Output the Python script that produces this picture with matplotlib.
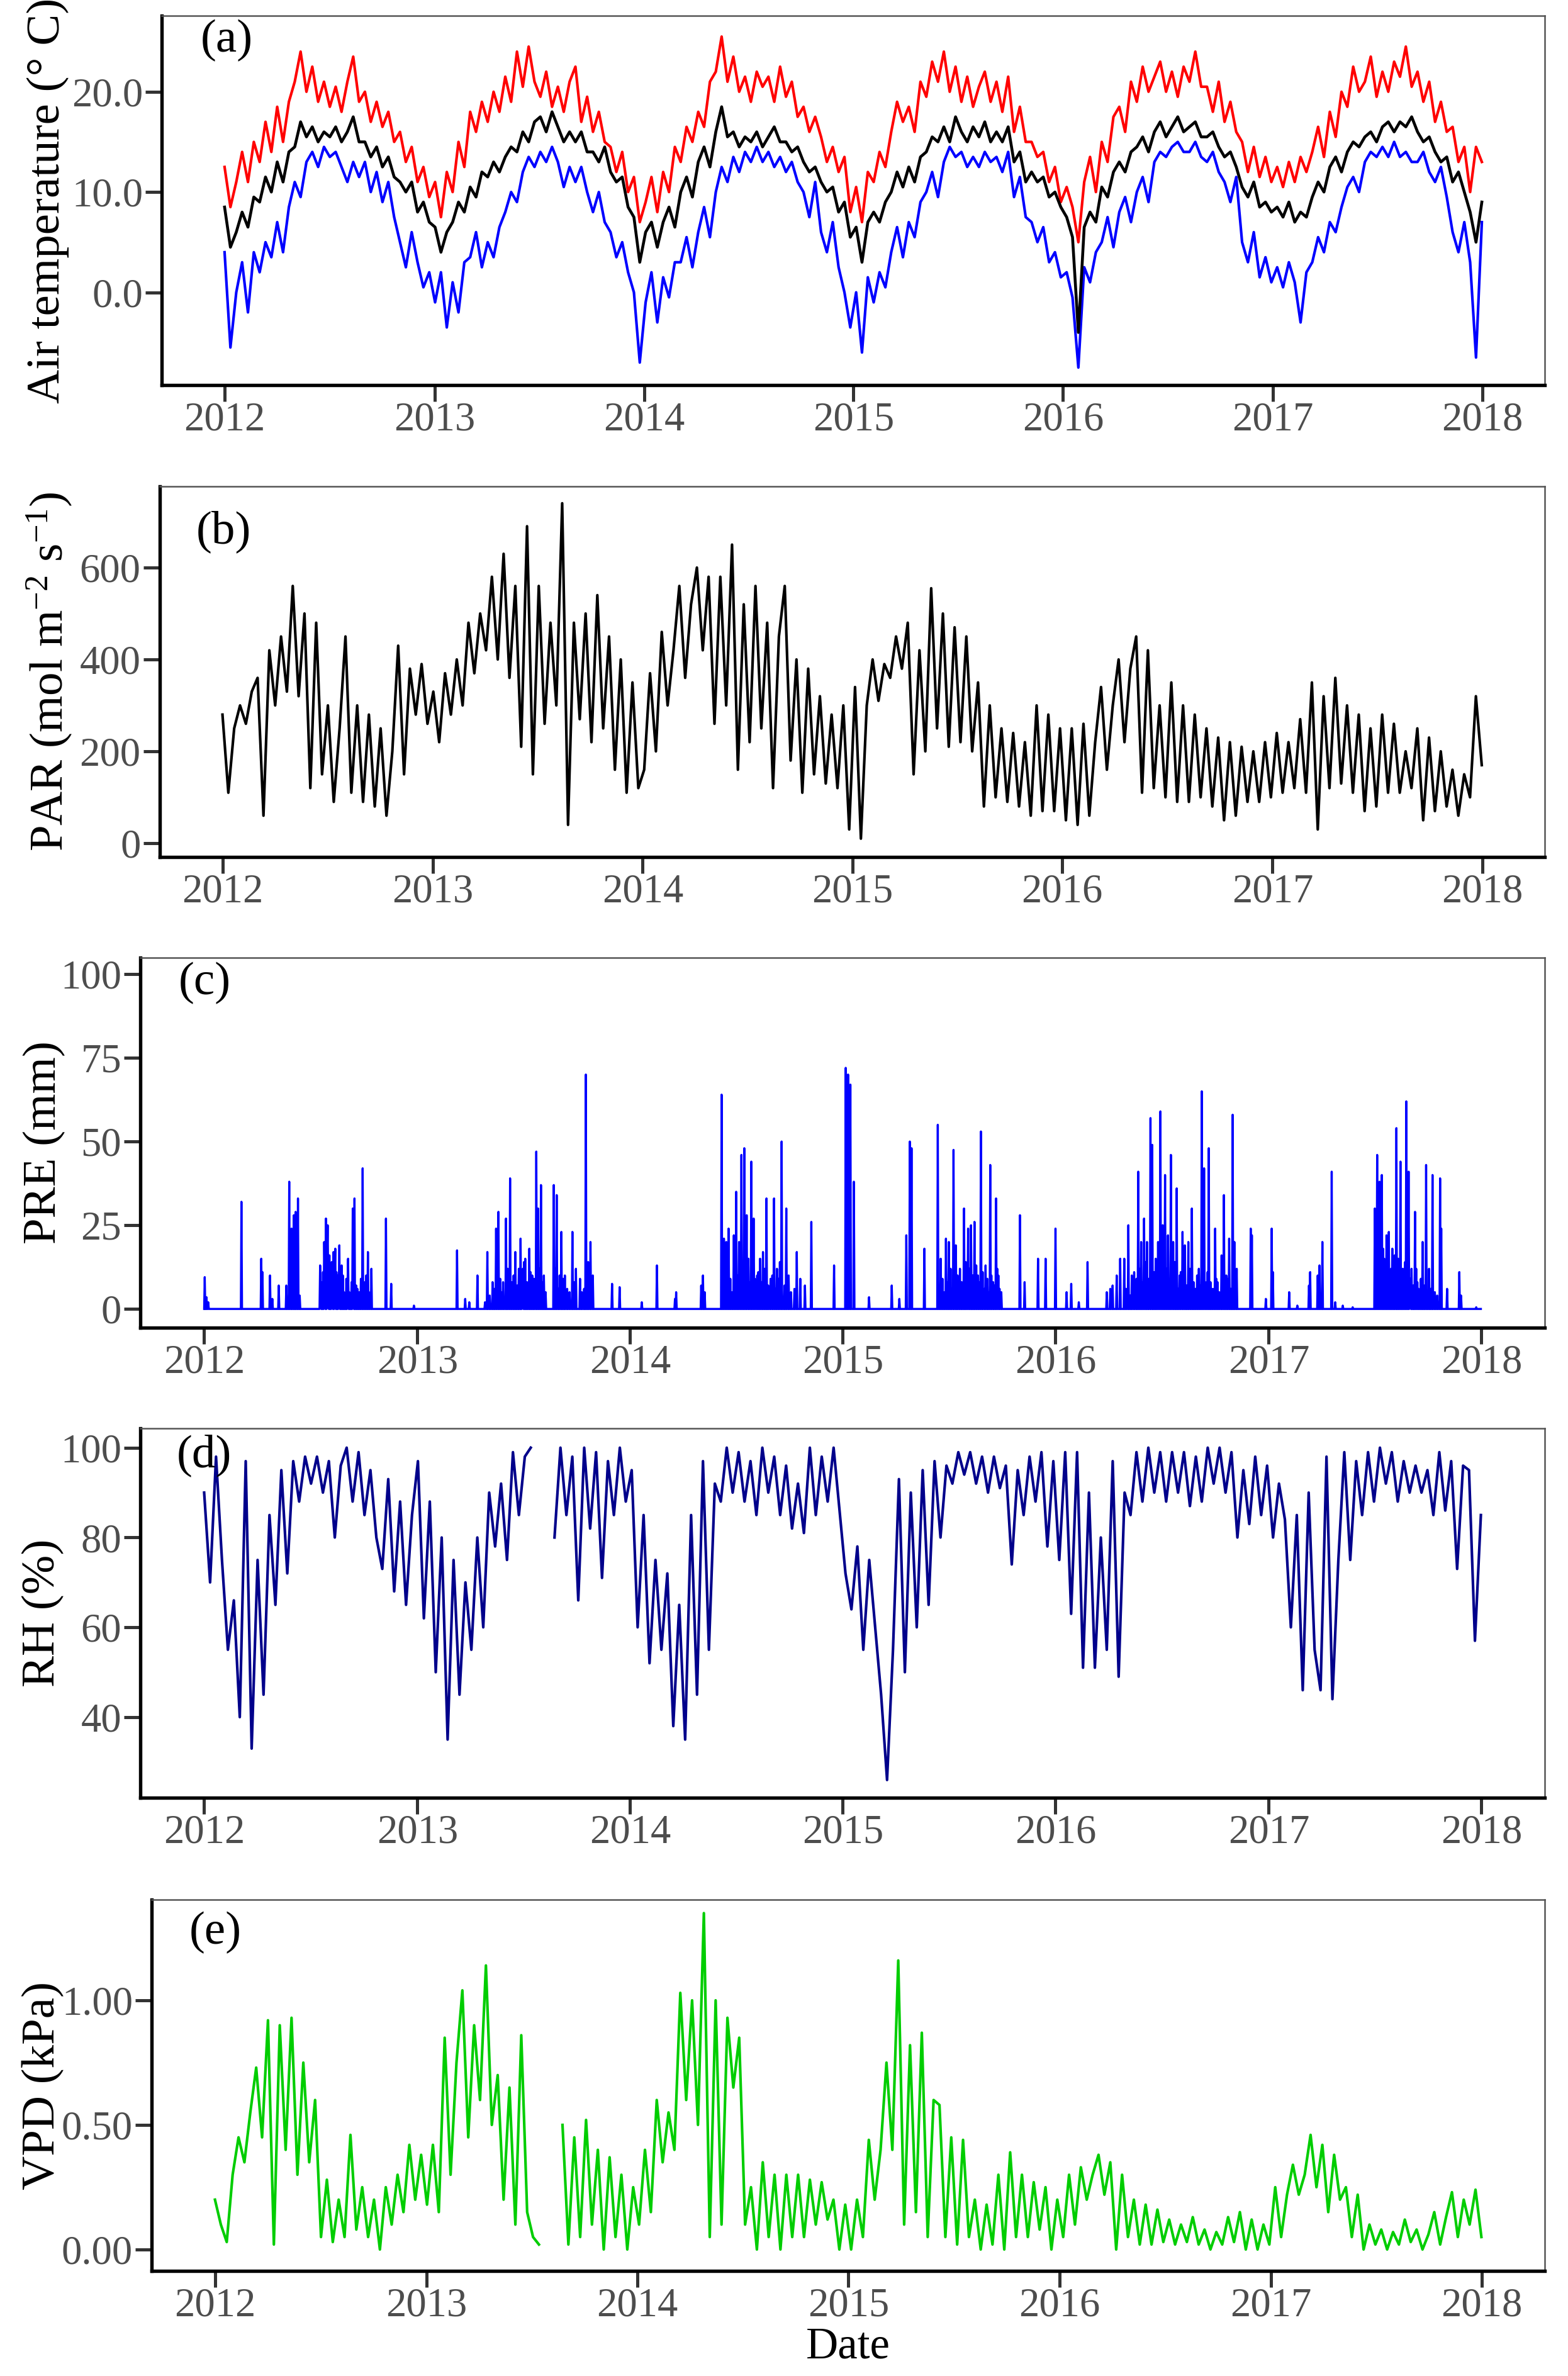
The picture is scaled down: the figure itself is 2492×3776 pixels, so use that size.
import numpy as np
import pandas as pd
import matplotlib
matplotlib.use('Agg')
import matplotlib.pyplot as plt
import matplotlib.dates as mdates

plt.rcParams.update({
    'font.family': ['Liberation Serif', 'DejaVu Serif'],
    'mathtext.fontset': 'custom',
    'mathtext.rm': 'Liberation Serif',
    'mathtext.it': 'Liberation Serif:italic',
    'mathtext.default': 'regular',
})

# ---- data: ten-day values, one row per year (Jan..Dec, three per month) ----
tmax = [
    12.5, 8.5, 11, 14, 11, 15, 13, 17, 14, 18.5, 15, 19, 21, 24, 20, 22.5, 19, 21,
    18.5, 20.5, 18, 21, 23.5, 19, 20, 17, 19, 16.5, 18, 15, 16, 13, 14.5, 11, 12.5, 9.5,
    11, 7.5, 12, 10, 15, 12.5, 18, 16, 19, 17, 20, 18, 21.5, 19, 24, 20.5, 24.5, 21,
    19.5, 22, 18.5, 20.5, 18, 21, 22.5, 17, 19.5, 16, 18, 15, 14.5, 12, 14, 10, 11.5, 7,
    9, 11.5, 8, 12, 10, 14.5, 13, 16.5, 15, 18, 16.5, 21, 22, 25.5, 21, 23.5, 20, 21.5,
    19, 22, 20.5, 21.5, 19, 22.5, 19.5, 21, 17.5, 18.5, 16, 17.5, 15.5, 13, 14.5, 12, 13.5, 8,
    10.5, 7, 12, 11, 14, 12.5, 16, 19, 17, 18.5, 16, 21, 19.5, 23, 21, 24, 20, 22.5,
    19, 21.5, 18.5, 20.5, 22, 19, 21, 18, 21.5, 16, 18.5, 15, 15, 13.5, 14, 11, 12.5, 9,
    10.5, 8.5, 5, 11, 13.5, 10, 15, 13, 17.5, 18.5, 16, 21, 19, 22.5, 20, 21.5, 23, 20,
    22, 19.5, 22.5, 21, 24, 20.5, 20.5, 18, 21, 17, 19, 16, 15, 12, 14.5, 11.5, 13.5, 11,
    12.5, 10.5, 13, 11, 13.5, 12, 14, 16.5, 13.5, 18, 15.5, 20, 18.5, 22.5, 20, 21, 23.5, 19.5,
    22, 20, 23, 21.5, 24.5, 20.5, 22, 19, 21, 17, 19, 16, 16.5, 13, 14.5, 10, 14.5, 13,
]
tmean = [
    8.5, 4.5, 6, 8, 6.5, 9.5, 9, 11.5, 10, 13, 11, 14, 14.5, 17, 15.5, 16.5, 15, 16,
    15.5, 16.5, 15, 16, 17.5, 15, 15, 13.5, 14.5, 12.5, 13.5, 11.5, 11, 10, 11, 8, 9, 7,
    6.5, 4, 6, 7, 9, 8, 10.5, 9.5, 12, 11.5, 13, 12, 13.5, 14.5, 14, 16, 15, 17,
    17.5, 16, 18, 16.5, 15, 16, 15, 16, 14, 14, 13, 14.5, 12, 11, 11.5, 8.5, 7.5, 3,
    6, 7, 4.5, 7, 8.5, 6.5, 10, 11.5, 9.5, 13, 14.5, 12.5, 16, 18.5, 15.5, 16, 14.5, 15.5,
    15, 16, 14.5, 15.5, 16.5, 15, 15, 14, 14.5, 13, 12, 12.5, 11, 10, 10.5, 8, 9, 5.5,
    6.5, 3, 7, 8, 7, 9, 10, 12, 10.5, 12.5, 11, 13.5, 14, 15.5, 15, 16.5, 15, 17.5,
    16, 15, 16.5, 15.5, 17, 15, 16, 15, 16.5, 13, 14, 11, 12, 11, 11.5, 9.5, 10, 8.5,
    7.5, 5.5, -4, 6.5, 8, 7, 10.5, 9.5, 12, 13, 12, 14, 14.5, 15.5, 14, 16, 17, 15.5,
    16.5, 17.5, 16, 16.5, 17, 15.5, 15.5, 16, 14.5, 13.5, 14, 12.5, 10.5, 9.5, 11, 8.5, 9, 8,
    8.5, 7.5, 9, 7, 8, 7.5, 9.5, 11, 10, 12.5, 13.5, 12, 14, 15, 14.5, 15.5, 16, 15,
    16.5, 17, 16, 17, 16.5, 17.5, 16, 15, 15.5, 14, 13, 13.5, 11, 12, 10, 8, 5, 9,
]
tmin = [
    4, -5.5, 0, 3, -2, 4, 2, 5, 3.5, 7, 4, 8.5, 11, 9.5, 13, 14, 12.5, 14.5,
    13.5, 14, 12.5, 11, 13, 11.5, 13, 10, 12, 9, 11, 7.5, 5, 2.5, 6, 3, 0.5, 2,
    -1, 2, -3.5, 1, -2, 3, 3.5, 6, 2.5, 5, 3.5, 6.5, 8, 10, 9, 12, 13.5, 12.5,
    14, 13, 14.5, 13, 10.5, 12.5, 11, 12.5, 10, 8, 10, 7, 6, 3.5, 5, 2, 0, -7,
    -1, 2, -3, 1.5, -0.5, 3, 3, 5.5, 2.5, 6, 8.5, 5.5, 10, 12.5, 11, 13.5, 12, 14,
    13, 14.5, 13, 14, 12.5, 13.5, 12, 13, 11, 10, 7.5, 11, 6, 4, 7, 2.5, 0, -3.5,
    0, -6, 1.5, -1, 2, 0.5, 4, 6.5, 3.5, 7, 5.5, 9, 10, 12, 9.5, 13, 14.5, 13.5,
    14, 12.5, 13.5, 12.5, 14, 13, 13.5, 12, 14, 9.5, 11.5, 7.5, 7, 5, 6.5, 3, 4, 1.5,
    2, -0.5, -7.5, 2.5, 1, 4, 5, 7.5, 4.5, 8, 9.5, 7, 10, 11.5, 9, 13, 14, 13.5,
    14.5, 15, 14, 14, 15, 13.5, 13, 14, 12, 11, 9, 11.5, 5, 3, 6, 1.5, 3.5, 1,
    2.5, 0.5, 3, 1, -3, 2, 3, 5.5, 4, 7, 6, 8.5, 10.5, 11.5, 10, 13, 14, 13.5,
    14.5, 13.5, 15, 13.5, 14, 13, 13, 14, 12, 11, 12.5, 9.5, 6, 4, 7, 3, -6.5, 7,
]
par = [
    280, 110, 250, 300, 260, 330, 360, 60, 420, 300, 450, 330, 560, 320, 500, 120, 480, 150,
    300, 90, 250, 450, 110, 300, 90, 280, 80, 250, 60, 200, 430, 150, 380, 280, 390, 260,
    330, 220, 370, 280, 400, 300, 480, 370, 500, 420, 580, 400, 630, 360, 560, 210, 690, 150,
    560, 260, 480, 300, 740, 40, 480, 270, 500, 220, 540, 250, 450, 160, 400, 110, 350, 120,
    160, 370, 200, 460, 300, 420, 560, 360, 520, 600, 420, 580, 260, 580, 300, 650, 160, 520,
    220, 560, 250, 480, 120, 450, 560, 180, 400, 110, 380, 150, 320, 130, 280, 120, 300, 30,
    340, 10, 300, 400, 310, 390, 360, 450, 380, 480, 150, 420, 200, 555, 250, 500, 210, 470,
    220, 450, 200, 350, 80, 300, 100, 250, 90, 240, 80, 220, 60, 300, 70, 280, 70, 250,
    50, 250, 40, 260, 60, 220, 340, 160, 300, 400, 220, 380, 450, 110, 420, 120, 300, 100,
    350, 90, 300, 90, 280, 100, 250, 80, 230, 50, 220, 60, 210, 90, 200, 90, 220, 100,
    240, 110, 220, 120, 270, 110, 350, 30, 320, 120, 360, 130, 300, 110, 280, 70, 250, 80,
    280, 110, 260, 110, 200, 120, 250, 50, 230, 70, 200, 80, 160, 60, 150, 100, 320, 170,
]
nan = np.nan
rh = [
    90, 70, 98, 75, 55, 66, 40, 97, 33, 75, 45, 85, 65, 95, 72, 97, 88, 98,
    92, 98, 90, 97, 80, 96, 100, 88, 99, 85, 95, 80, 73, 93, 68, 88, 65, 85,
    97, 62, 88, 50, 80, 35, 75, 45, 70, 55, 80, 60, 90, 78, 92, 75, 99, 85,
    98, 100, nan, nan, nan, 80, 100, 85, 98, 66, 100, 82, 99, 71, 97, 85, 100, 88,
    95, 60, 85, 52, 75, 55, 72, 38, 65, 35, 85, 45, 97, 55, 92, 88, 100, 90,
    99, 88, 97, 85, 100, 90, 98, 85, 96, 82, 92, 81, 100, 85, 98, 88, 100, 86,
    72, 64, 78, 55, 75, 60, 45, 26, 55, 93, 50, 90, 60, 95, 65, 97, 80, 96,
    92, 99, 94, 99, 92, 98, 90, 98, 91, 96, 74, 95, 85, 98, 88, 99, 78, 97,
    75, 99, 63, 99, 51, 90, 51, 80, 55, 97, 49, 90, 85, 99, 88, 100, 90, 99,
    88, 99, 90, 99, 87, 98, 88, 100, 92, 100, 90, 99, 80, 95, 83, 98, 85, 96,
    80, 92, 84, 60, 85, 46, 90, 55, 46, 98, 44, 75, 99, 75, 97, 85, 99, 88,
    100, 92, 99, 88, 97, 90, 96, 90, 95, 85, 99, 86, 97, 73, 96, 95, 57, 85,
]
vpd = [
    0.20, 0.10, 0.03, 0.30, 0.45, 0.35, 0.55, 0.73, 0.45, 0.92, 0.02, 0.90, 0.40, 0.93, 0.30, 0.75, 0.35, 0.60,
    0.05, 0.28, 0.03, 0.20, 0.05, 0.46, 0.08, 0.25, 0.05, 0.20, 0.00, 0.25, 0.10, 0.30, 0.15, 0.42, 0.20, 0.38,
    0.18, 0.42, 0.15, 0.85, 0.30, 0.75, 1.04, 0.45, 0.90, 0.60, 1.14, 0.50, 0.70, 0.20, 0.65, 0.10, 0.86, 0.15,
    0.05, 0.02, nan, nan, nan, 0.50, 0.02, 0.45, 0.05, 0.52, 0.10, 0.40, 0.00, 0.37, 0.05, 0.30, 0.00, 0.25,
    0.10, 0.40, 0.15, 0.60, 0.35, 0.55, 0.40, 1.03, 0.60, 1.00, 0.50, 1.35, 0.05, 1.00, 0.10, 0.93, 0.65, 0.85,
    0.10, 0.25, 0.00, 0.35, 0.05, 0.30, 0.00, 0.30, 0.05, 0.30, 0.05, 0.28, 0.10, 0.27, 0.12, 0.20, 0.00, 0.18,
    0.00, 0.20, 0.05, 0.44, 0.20, 0.40, 0.75, 0.40, 1.16, 0.10, 0.82, 0.15, 0.87, 0.05, 0.60, 0.58, 0.05, 0.45,
    0.02, 0.44, 0.05, 0.20, 0.00, 0.18, 0.02, 0.30, 0.00, 0.39, 0.05, 0.30, 0.05, 0.27, 0.08, 0.25, 0.00, 0.20,
    0.05, 0.30, 0.10, 0.33, 0.20, 0.30, 0.38, 0.22, 0.35, 0.00, 0.30, 0.05, 0.20, 0.02, 0.18, 0.02, 0.16, 0.03,
    0.12, 0.02, 0.10, 0.03, 0.13, 0.02, 0.08, 0.00, 0.07, 0.02, 0.13, 0.03, 0.15, 0.00, 0.12, 0.00, 0.10, 0.02,
    0.25, 0.05, 0.22, 0.34, 0.22, 0.30, 0.46, 0.25, 0.42, 0.15, 0.38, 0.20, 0.25, 0.05, 0.22, 0.00, 0.10, 0.02,
    0.08, 0.00, 0.07, 0.02, 0.12, 0.03, 0.08, 0.00, 0.06, 0.15, 0.02, 0.13, 0.23, 0.05, 0.20, 0.10, 0.24, 0.05,
]

# daily precipitation: rain days (all other days 0 mm)
pre_dates = [
    '2012-01-02', '2012-01-05', '2012-01-08', '2012-03-05', '2012-04-08', '2012-04-10', '2012-04-23',
    '2012-04-27', '2012-05-08', '2012-05-21', '2012-05-26', '2012-05-30', '2012-06-03', '2012-06-06',
    '2012-06-10', '2012-06-13', '2012-07-18', '2012-07-21', '2012-07-25', '2012-07-28', '2012-07-31',
    '2012-08-03', '2012-08-07', '2012-08-10', '2012-08-13', '2012-08-17', '2012-08-20', '2012-08-24',
    '2012-08-28', '2012-09-01', '2012-09-04', '2012-09-08', '2012-09-12', '2012-09-15', '2012-09-20',
    '2012-09-29', '2012-10-03', '2012-10-08', '2012-10-14', '2012-11-08', '2012-11-17', '2012-12-26',
    '2013-03-10', '2013-03-24', '2013-03-31', '2013-04-14', '2013-04-27', '2013-05-01', '2013-05-10',
    '2013-05-16', '2013-05-20', '2013-05-28', '2013-06-02', '2013-06-09', '2013-06-18', '2013-06-27',
    '2013-07-01', '2013-07-05', '2013-07-12', '2013-07-17', '2013-07-24', '2013-07-27', '2013-08-01',
    '2013-08-06', '2013-08-23', '2013-08-28', '2013-09-02', '2013-09-05', '2013-09-11', '2013-09-24',
    '2013-09-30', '2013-10-07', '2013-10-17', '2013-10-21', '2013-10-25', '2013-10-29', '2013-12-01',
    '2013-12-14',
    '2014-01-21', '2014-02-16', '2014-03-19', '2014-03-21', '2014-05-03', '2014-05-06', '2014-05-09',
    '2014-06-07', '2014-06-11', '2014-06-15', '2014-06-19', '2014-06-25', '2014-06-28', '2014-07-02',
    '2014-07-07', '2014-07-11', '2014-07-16', '2014-07-20', '2014-07-28', '2014-08-01', '2014-08-07',
    '2014-08-12', '2014-08-17', '2014-08-23', '2014-08-30', '2014-09-05', '2014-09-10', '2014-09-18',
    '2014-09-26', '2014-09-30', '2014-10-14', '2014-10-20', '2014-10-28', '2014-11-08', '2014-12-17',
    '2015-01-06', '2015-01-10', '2015-01-14', '2015-01-20', '2015-02-15', '2015-03-26', '2015-04-08',
    '2015-04-20', '2015-04-26', '2015-04-29', '2015-05-21', '2015-06-13', '2015-06-18', '2015-06-27',
    '2015-07-02', '2015-07-10', '2015-07-14', '2015-07-21', '2015-07-28', '2015-08-04', '2015-08-09',
    '2015-08-15', '2015-08-21', '2015-08-26', '2015-09-03', '2015-09-11', '2015-09-16', '2015-09-21',
    '2015-09-25', '2015-09-30', '2015-11-01', '2015-11-09', '2015-12-02', '2015-12-15', '2016-01-01',
    '2016-01-20', '2016-01-28', '2016-02-10', '2016-02-25', '2016-03-29', '2016-04-04', '2016-04-08',
    '2016-04-15', '2016-04-21', '2016-04-28', '2016-05-05', '2016-05-11', '2016-05-15', '2016-05-22',
    '2016-05-27', '2016-06-01', '2016-06-06', '2016-06-12', '2016-06-15', '2016-06-21', '2016-06-25',
    '2016-06-29', '2016-07-03', '2016-07-07', '2016-07-12', '2016-07-17', '2016-07-21', '2016-07-27',
    '2016-08-01', '2016-08-06', '2016-08-10', '2016-08-16', '2016-08-22', '2016-08-28', '2016-09-03',
    '2016-09-08', '2016-09-12', '2016-09-16', '2016-09-20', '2016-09-26', '2016-10-01', '2016-10-05',
    '2016-10-12', '2016-10-16', '2016-10-20', '2016-10-25', '2016-10-31', '2016-11-03', '2016-11-07',
    '2016-12-01', '2016-12-03', '2016-12-27',
    '2017-01-06', '2017-01-08', '2017-02-05', '2017-02-19', '2017-03-11', '2017-03-13', '2017-03-26',
    '2017-03-29', '2017-04-03', '2017-04-19', '2017-04-25', '2017-05-08', '2017-05-25', '2017-07-02',
    '2017-07-06', '2017-07-10', '2017-07-14', '2017-07-18', '2017-07-22', '2017-07-26', '2017-08-01',
    '2017-08-08', '2017-08-11', '2017-08-15', '2017-08-19', '2017-08-25', '2017-08-29', '2017-09-03',
    '2017-09-09', '2017-09-13', '2017-09-17', '2017-09-22', '2017-09-28', '2017-10-03', '2017-10-09',
    '2017-10-13', '2017-10-22', '2017-10-24', '2017-11-03', '2017-11-24', '2017-11-27', '2017-12-23',
]
pre_mm = [
    9.5, 3.5, 2, 32, 15, 11, 10, 3, 7, 7, 38, 24, 28, 29,
    33, 4, 13, 8, 20, 27, 25, 16, 14, 17, 18, 10, 19, 13,
    5, 9, 15, 4, 30, 33, 6, 42, 8, 17, 12, 27, 7.5, 1,
    17.5, 3, 2, 10, 2, 17, 8, 24, 29, 8, 27, 39, 17, 21,
    12, 15, 18, 10, 47, 30, 37, 10, 37, 34, 10, 23, 10, 23,
    12, 9, 70, 14, 20, 10, 7.5, 6.5,
    2, 13, 3, 5, 7, 10, 5, 64, 21, 20, 24, 5, 22, 35,
    20, 46, 48, 28, 44, 27, 10, 15, 17, 33, 9, 33, 12, 50,
    30, 10, 17, 9, 7, 26, 13,
    72, 70, 67, 38, 3.5, 7, 3, 22, 50, 48, 18, 55, 15, 21,
    20, 47.5, 19, 12, 30, 24, 25, 26, 10, 53, 13, 43, 8, 33,
    10, 5, 28, 8, 15, 15, 24, 5, 7.5, 2, 14, 5, 6, 7,
    10, 15, 15, 25, 10, 11, 41, 20, 27, 20, 57, 49, 15, 20,
    59, 25, 40, 22, 46, 20, 36, 10, 23, 19, 20, 30, 6, 12,
    65, 42, 8, 48, 6, 24, 8, 16, 34, 10, 21, 58, 20, 12,
    24, 22, 3,
    24, 11, 5, 1, 7, 11, 10, 13, 20, 41, 2, 1, 0.5, 30,
    46, 38, 40, 15, 22, 23, 18, 54, 15, 44, 12, 62, 41, 12,
    29, 8, 5, 20, 43, 12, 40, 5, 39, 24, 6, 11, 4, 0.5,
]
# smaller rain days inside the wet seasons
pre_wet = [
    ('2012-07-19', 6), ('2012-07-23', 11), ('2012-07-26', 9), ('2012-07-30', 14), ('2012-08-01', 7),
    ('2012-08-05', 12), ('2012-08-08', 6), ('2012-08-12', 9), ('2012-08-15', 11), ('2012-08-19', 6),
    ('2012-08-22', 8), ('2012-08-26', 10), ('2012-08-30', 4), ('2012-09-03', 7), ('2012-09-06', 5),
    ('2012-09-10', 8), ('2012-09-13', 12), ('2012-09-18', 7), ('2012-09-23', 5), ('2012-09-26', 9),
    ('2012-10-01', 6), ('2012-10-05', 10), ('2012-10-10', 5),
    ('2013-05-05', 4), ('2013-05-13', 6), ('2013-05-23', 9), ('2013-05-25', 5), ('2013-06-05', 12),
    ('2013-06-12', 8), ('2013-06-15', 10), ('2013-06-21', 7), ('2013-06-24', 12), ('2013-06-30', 9),
    ('2013-07-03', 14), ('2013-07-08', 8), ('2013-07-14', 11), ('2013-07-20', 9), ('2013-07-30', 12),
    ('2013-08-03', 8), ('2013-08-09', 5), ('2013-08-26', 12), ('2013-08-31', 6), ('2013-09-08', 9),
    ('2013-09-15', 6), ('2013-09-19', 5), ('2013-09-27', 8), ('2013-10-10', 5), ('2013-10-14', 6),
    ('2014-06-09', 8), ('2014-06-13', 6), ('2014-06-17', 12), ('2014-06-22', 9), ('2014-06-30', 14),
    ('2014-07-04', 10), ('2014-07-09', 18), ('2014-07-13', 12), ('2014-07-18', 9), ('2014-07-23', 15),
    ('2014-07-25', 8), ('2014-07-30', 12), ('2014-08-03', 9), ('2014-08-05', 6), ('2014-08-09', 11),
    ('2014-08-14', 8), ('2014-08-20', 12), ('2014-08-26', 7), ('2014-09-02', 10), ('2014-09-07', 6),
    ('2014-09-13', 9), ('2014-09-15', 14), ('2014-09-23', 7), ('2014-10-04', 5), ('2014-10-10', 6),
    ('2015-06-15', 6), ('2015-06-21', 9), ('2015-06-24', 5), ('2015-06-30', 8), ('2015-07-05', 12),
    ('2015-07-07', 6), ('2015-07-17', 10), ('2015-07-24', 8), ('2015-07-31', 14), ('2015-08-02', 9),
    ('2015-08-06', 12), ('2015-08-12', 10), ('2015-08-18', 13), ('2015-08-24', 8), ('2015-08-29', 11),
    ('2015-09-01', 6), ('2015-09-06', 9), ('2015-09-09', 5), ('2015-09-13', 10), ('2015-09-19', 7),
    ('2015-09-23', 12), ('2015-09-27', 6),
    ('2016-05-01', 6), ('2016-05-08', 4), ('2016-05-19', 9), ('2016-05-24', 12), ('2016-05-30', 8),
    ('2016-06-03', 14), ('2016-06-09', 9), ('2016-06-18', 11), ('2016-06-23', 7), ('2016-06-27', 13),
    ('2016-07-01', 8), ('2016-07-05', 10), ('2016-07-10', 12), ('2016-07-14', 7), ('2016-07-19', 9),
    ('2016-07-24', 14), ('2016-07-30', 6), ('2016-08-03', 11), ('2016-08-08', 9), ('2016-08-13', 7),
    ('2016-08-19', 12), ('2016-08-25', 8), ('2016-08-31', 10), ('2016-09-06', 7), ('2016-09-10', 9),
    ('2016-09-14', 5), ('2016-09-18', 11), ('2016-09-23', 8), ('2016-09-29', 6), ('2016-10-03', 9),
    ('2016-10-08', 5), ('2016-10-14', 7), ('2016-10-22', 9), ('2016-10-28', 6),
    ('2017-07-04', 12), ('2017-07-08', 20), ('2017-07-12', 9), ('2017-07-16', 18), ('2017-07-20', 10),
    ('2017-07-24', 14), ('2017-07-28', 8), ('2017-07-30', 12), ('2017-08-03', 10), ('2017-08-05', 16),
    ('2017-08-13', 9), ('2017-08-17', 11), ('2017-08-21', 8), ('2017-08-23', 14), ('2017-08-27', 10),
    ('2017-08-31', 6), ('2017-09-01', 9), ('2017-09-06', 7), ('2017-09-11', 12), ('2017-09-15', 6),
    ('2017-09-19', 9), ('2017-09-25', 7), ('2017-09-30', 5), ('2017-10-06', 6), ('2017-10-17', 4),
]

# ---- assemble ----
dek = pd.date_range('2012-01-01', '2017-12-31', periods=len(tmax))
days = pd.date_range('2012-01-01', '2017-12-31', freq='D')
pre = pd.Series(0.0, index=days)
pre.loc[pd.to_datetime([d for d, v in pre_wet])] = [v for d, v in pre_wet]
pre.loc[pd.to_datetime(pre_dates)] = pre_mm

W, H = 2492, 3776
fig = plt.figure(figsize=(W / 300, H / 300), dpi=300)

pad_days = pd.Timedelta(days=0.05 * (days[-1] - days[0]).days)
xlim = (days[0] - pad_days, days[-1] + pad_days)
xticks = pd.to_datetime(['%d-01-01' % y for y in range(2012, 2019)])


def make_axes(left, top, right, bottom):
    return fig.add_axes([left / W, 1 - bottom / H, (right - left) / W, (bottom - top) / H])


def style(ax, box, yticks, ylabels, ylim, title, title_x, letter, ldx, ldy):
    left, top, right, bottom = box
    ax.set_xlim(xlim)
    ax.set_ylim(ylim)
    ax.set_xticks(xticks)
    ax.xaxis.set_major_formatter(mdates.DateFormatter('%Y'))
    ax.set_yticks(yticks)
    ax.set_yticklabels(ylabels)
    ax.tick_params(axis='both', direction='out', length=6.2, width=1.2, color='#333333',
                   labelsize=15.5, labelcolor='#4d4d4d', pad=1)
    ax.tick_params(axis='x', pad=0)
    for s in ('left', 'bottom'):
        ax.spines[s].set_color('black')
        ax.spines[s].set_linewidth(1.3)
    for s in ('top', 'right'):
        ax.spines[s].set_color('#555555')
        ax.spines[s].set_linewidth(0.6)
    ax.set_ylabel(title, fontsize=18, color='black')
    ax.yaxis.set_label_coords(title_x / W, 1 - (top + bottom) / 2 / H, transform=fig.transFigure)
    fig.text((left + ldx) / W, 1 - (top + ldy) / H, letter, fontsize=18,
             ha='left', va='baseline')


# (a) air temperature
box_a = (257, 25, 2455, 612)
ax = make_axes(*box_a)
ax.plot(dek, tmax, color='#ff0000', lw=1.0)
ax.plot(dek, tmin, color='#0000ff', lw=1.0)
ax.plot(dek, tmean, color='black', lw=1.1)
style(ax, box_a, [0, 10, 20], ['0.0', '10.0', '20.0'], (-9.25, 27.58),
      'Air temperature (° C)', 110, '(a)', 62, 57)

# (b) PAR
box_b = (253.5, 773, 2455, 1362)
ax = make_axes(*box_b)
ax.plot(dek, par, color='black', lw=1.0)
style(ax, box_b, [0, 200, 400, 600], ['0', '200', '400', '600'], (-30, 776.7),
      r'PAR (mol m$^{-2}$ s$^{-1}$)', 118, '(b)', 58.5, 90)

# (c) precipitation
box_c = (223, 1522, 2455, 2110)
ax = make_axes(*box_c)
ax.plot(pre.index, pre.values, color='#0000ff', lw=0.8)
style(ax, box_c, [0, 25, 50, 75, 100], ['0', '25', '50', '75', '100'], (-5.6, 104.9),
      'PRE (mm)', 104, '(c)', 61, 58)

# (d) relative humidity
box_d = (223, 2270, 2455, 2857)
ax = make_axes(*box_d)
ax.plot(dek, rh, color='#00008b', lw=1.0)
style(ax, box_d, [40, 60, 80, 100], ['40', '60', '80', '100'], (22.05, 104.3),
      'RH (%)', 102, '(d)', 58, 61)

# (e) VPD
box_e = (241, 3019, 2455, 3609)
ax = make_axes(*box_e)
ax.plot(dek, vpd, color='#00cd00', lw=1.0)
style(ax, box_e, [0, 0.5, 1.0], ['0.00', '0.50', '1.00'], (-0.086, 1.404),
      'VPD (kPa)', 102, '(e)', 60, 70)
ax.set_xlabel('Date', fontsize=17, color='black')
ax.xaxis.set_label_coords(1348 / W, 1 - 3697 / H, transform=fig.transFigure)

fig.savefig('out.png', dpi=300)
